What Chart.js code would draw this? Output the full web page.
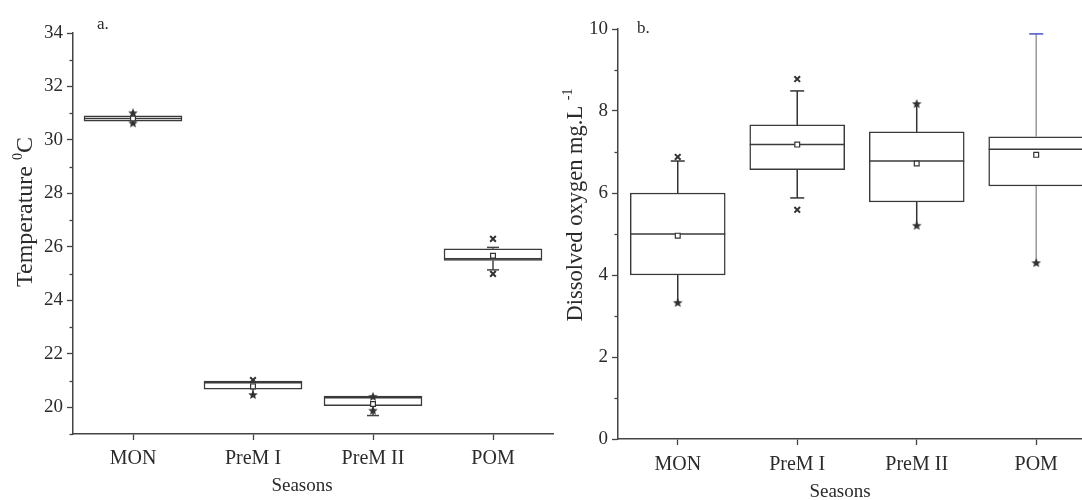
<!DOCTYPE html>
<html>
<head>
<meta charset="utf-8">
<script src="https://cdn.jsdelivr.net/npm/chart.js@4.4.0/dist/chart.umd.min.js"></script>
<style>
html, body { margin: 0; padding: 0; background: #fff; }
#wrap { position: relative; width: 1082px; height: 500px; overflow: hidden; }
canvas { position: absolute; top: 0; }
#chartA { left: 0; }
#chartB { left: 540px; }
</style>
</head>
<body>
<div id="wrap">
  <canvas id="chartA" width="559" height="500"></canvas>
  <canvas id="chartB" width="550" height="500"></canvas>
</div>
<script>
// ---- shared categories ----
const seasons = ["MON", "PreM I", "PreM II", "POM"];

// ---- panel a: temperature (degC) ----
const tempQ1      = [30.70, 20.68, 20.06, 25.49];
const tempQ3      = [30.90, 20.98, 20.42, 25.93];
const tempMedian  = [30.80, 20.92, 20.36, 25.56];
const tempMean    = [30.80, 20.78, 20.12, 25.67];
const tempWhiskLo = [30.62, 20.46, 19.69, 25.14];
const tempWhiskHi = [31.00, 21.02, 20.42, 25.98];
const tempOutHi   = [31.00, 21.02, 20.39, 26.30];
const tempOutLo   = [30.62, 20.46, 19.87, 24.99];

// ---- panel b: dissolved oxygen (mg/L) ----
const doQ1      = [4.00, 6.57, 5.78, 6.17];
const doQ3      = [6.00, 7.66, 7.49, 7.37];
const doMedian  = [5.00, 7.18, 6.78, 7.07];
const doMean    = [4.96, 7.18, 6.72, 6.93];
const doWhiskLo = [3.35, 5.88, 5.22, 4.29];
const doWhiskHi = [6.78, 8.49, 8.17, 9.88];
const doOutHi   = [6.88, 8.78, 8.17, null];
const doOutLo   = [3.32, 5.59, 5.20, 4.29];

// ---- styling ----
const INK = "#2b2b2b";
const AXIS = "#444";
const SERIF = "'Liberation Serif', 'Times New Roman', serif";

// small filled star used for the outlier markers
function makeStar(size, color) {
    const c = document.createElement("canvas");
    c.width = size; c.height = size;
    const g = c.getContext("2d");
    const cx = size / 2, cy = size / 2, R = size / 2, r = R * 0.45;
    g.beginPath();
    for (let k = 0; k < 10; k++) {
        const rad = k % 2 === 0 ? R : r;
        const a = -Math.PI / 2 + k * Math.PI / 5;
        g.lineTo(cx + rad * Math.cos(a), cy + rad * Math.sin(a));
    }
    g.closePath();
    g.fillStyle = color;
    g.fill();
    return c;
}
const STAR = makeStar(10, "#333");

function seg(ctx, x1, y1, x2, y2) {
    ctx.beginPath();
    ctx.moveTo(x1, y1);
    ctx.lineTo(x2, y2);
    ctx.stroke();
}

// median line, whiskers and caps, drawn from the y scale right after the boxes
function boxExtras(stats, look) {
    return {
        id: "boxExtras",
        afterDatasetDraw(chart, args) {
            if (args.index !== 0) return;
            const ctx = chart.ctx, ys = chart.scales.y;
            const bars = chart.getDatasetMeta(0).data;
            ctx.save();
            ctx.lineWidth = look.lw;
            bars.forEach((bar, i) => {
                const half = bar.width / 2;
                const x = bar.x;
                const top = ys.getPixelForValue(stats.q3[i]);
                const bot = ys.getPixelForValue(stats.q1[i]);
                const hi = ys.getPixelForValue(stats.hi[i]);
                const lo = ys.getPixelForValue(stats.lo[i]);
                ctx.strokeStyle = look.whisker[i];
                if (hi < top) seg(ctx, x, top, x, hi);
                if (lo > bot) seg(ctx, x, bot, x, lo);
                if (look.capHi[i]) {
                    ctx.strokeStyle = look.capHiColor[i];
                    seg(ctx, x - look.cap / 2, hi, x + look.cap / 2, hi);
                }
                if (look.capLo[i]) {
                    ctx.strokeStyle = look.whisker[i];
                    seg(ctx, x - look.cap / 2, lo, x + look.cap / 2, lo);
                }
                ctx.strokeStyle = look.box;
                const ym = ys.getPixelForValue(stats.median[i]);
                seg(ctx, x - half, ym, x + half, ym);
            });
            ctx.restore();
        }
    };
}

// minor ticks, panel letter and axis titles
function panelText(cfg) {
    return {
        id: "panelText",
        afterDraw(chart) {
            const ctx = chart.ctx, ys = chart.scales.y, left = chart.chartArea.left;
            ctx.save();
            ctx.strokeStyle = AXIS;
            ctx.lineWidth = 1.3;
            for (let v = Math.ceil(ys.min); v <= ys.max; v++) {
                if (v % 2 === 0) continue;
                const py = Math.round(ys.getPixelForValue(v)) + 0.5;
                seg(ctx, left - 3.5, py, left, py);
            }
            ctx.fillStyle = INK;
            ctx.textBaseline = "alphabetic";
            ctx.textAlign = "left";
            ctx.font = "17px " + SERIF;
            ctx.fillText(cfg.letter, cfg.letterX, cfg.letterY);

            ctx.textAlign = "center";
            ctx.textBaseline = "middle";
            ctx.font = cfg.xTitleSize + "px " + SERIF;
            ctx.fillText("Seasons", cfg.xTitleX, cfg.xTitleY);

            // rotated y title with a superscript part
            ctx.translate(cfg.yTitleX, cfg.yTitleY);
            ctx.rotate(-Math.PI / 2);
            ctx.textAlign = "left";
            ctx.textBaseline = "middle";
            let total = 0;
            cfg.yTitle.forEach(p => {
                ctx.font = p.size + "px " + SERIF;
                p.w = ctx.measureText(p.t).width;
                total += p.w;
            });
            let px = -total / 2;
            cfg.yTitle.forEach(p => {
                ctx.font = p.size + "px " + SERIF;
                ctx.fillText(p.t, px, -(p.rise || 0));
                px += p.w;
            });
            ctx.restore();
        }
    };
}

function buildChart(id, d) {
    const tickFont = { family: SERIF, size: 19 };
    return new Chart(document.getElementById(id), {
        type: "bar",
        data: {
            datasets: [
                {
                    type: "bar",
                    order: 3,
                    data: d.q1.map((v, i) => ({ x: i + 1, y: [v, d.q3[i]] })),
                    backgroundColor: "#fff",
                    borderColor: d.look.box,
                    borderWidth: d.look.lw,
                    borderSkipped: false,
                    barThickness: d.boxW
                },
                {
                    type: "scatter",
                    order: 2,
                    data: d.outHi.map((v, i) => ({ x: i + 1, y: v })).filter(p => p.y !== null)
                        .concat(d.outLo.map((v, i) => ({ x: i + 1, y: v }))),
                    pointStyle: d.hiShape.map(s => s === "star" ? STAR : "crossRot")
                        .filter((s, i) => d.outHi[i] !== null)
                        .concat(d.loShape.map(s => s === "star" ? STAR : "crossRot")),
                    radius: 4,
                    borderColor: "#333",
                    borderWidth: 2,
                    backgroundColor: "#333"
                },
                {
                    type: "scatter",
                    order: 1,
                    data: d.mean.map((v, i) => ({ x: i + 1, y: v })),
                    pointStyle: "rect",
                    radius: 3.4,
                    borderColor: "#333",
                    borderWidth: 1.2,
                    backgroundColor: "#fff"
                }
            ]
        },
        options: {
            responsive: false,
            animation: false,
            layout: { padding: { top: d.padTop, right: d.padRight, left: 0, bottom: 0 } },
            plugins: { legend: { display: false }, tooltip: { enabled: false } },
            scales: {
                x: {
                    type: "linear",
                    offset: false,
                    min: 0.5,
                    max: d.xMax,
                    afterFit: s => { s.height = d.xAxisH; },
                    afterBuildTicks: s => { s.ticks = seasons.map((c, i) => ({ value: i + 1 })); },
                    border: { display: true, color: AXIS, width: 1.5 },
                    grid: { offset: false, drawOnChartArea: false, drawTicks: true, tickLength: 6, color: AXIS, tickWidth: 1.3 },
                    ticks: {
                        autoSkip: false,
                        maxRotation: 0,
                        padding: d.xTickPad,
                        color: INK,
                        font: { family: SERIF, size: 20 },
                        callback: v => seasons[Math.round(v) - 1] || ""
                    }
                },
                y: {
                    min: d.yMin,
                    max: d.yMax,
                    afterFit: s => { s.width = d.yAxisW; },
                    border: { display: true, color: AXIS, width: 1.5 },
                    grid: { drawOnChartArea: false, drawTicks: true, tickLength: 6, color: AXIS, tickWidth: 1.3 },
                    ticks: {
                        stepSize: 2,
                        includeBounds: false,
                        padding: 4,
                        color: INK,
                        font: tickFont
                    }
                }
            }
        },
        plugins: [boxExtras(d.stats, d.look), panelText(d.text)]
    });
}

buildChart("chartA", {
    q1: tempQ1, q3: tempQ3, mean: tempMean, outHi: tempOutHi, outLo: tempOutLo,
    hiShape: ["star", "x", "star", "x"],
    loShape: ["star", "star", "star", "x"],
    stats: { q1: tempQ1, q3: tempQ3, median: tempMedian, lo: tempWhiskLo, hi: tempWhiskHi },
    look: {
        box: "#3a3a3a", lw: 1.5, cap: 12,
        whisker: ["#444", "#444", "#444", "#444"],
        capHi: [false, false, false, true], capLo: [false, false, true, true],
        capHiColor: ["#444", "#444", "#444", "#444"]
    },
    boxW: 98, xMax: 4.5, yMin: 19, yMax: 34,
    padTop: 33, padRight: 3, xAxisH: 66, yAxisW: 73, xTickPad: 7,
    text: {
        letter: "a.", letterX: 97, letterY: 29,
        xTitleSize: 19, xTitleX: 302, xTitleY: 486,
        yTitleX: 26, yTitleY: 212,
        yTitle: [{ t: "Temperature ", size: 24 }, { t: "0", size: 14, rise: 8 }, { t: "C", size: 24 }]
    }
});

buildChart("chartB", {
    q1: doQ1, q3: doQ3, mean: doMean, outHi: doOutHi, outLo: doOutLo,
    hiShape: ["x", "x", "star", "x"],
    loShape: ["star", "x", "star", "star"],
    stats: { q1: doQ1, q3: doQ3, median: doMedian, lo: doWhiskLo, hi: doWhiskHi },
    look: {
        box: "#3a3a3a", lw: 1.5, cap: 14,
        whisker: ["#333", "#333", "#333", "#999"],
        capHi: [true, true, false, true], capLo: [false, true, false, false],
        capHiColor: ["#333", "#333", "#333", "#4a50c8"]
    },
    boxW: 95, xMax: 4.4, yMin: 0, yMax: 10,
    padTop: 29, padRight: 0, xAxisH: 61, yAxisW: 78, xTickPad: 8,
    text: {
        letter: "b.", letterX: 97, letterY: 33,
        xTitleSize: 19, xTitleX: 300, xTitleY: 492,
        yTitleX: 36, yTitleY: 205,
        yTitle: [{ t: "Dissolved oxygen mg.L ", size: 22.5 }, { t: "-1", size: 14, rise: 8 }]
    }
});
</script>
</body>
</html>
